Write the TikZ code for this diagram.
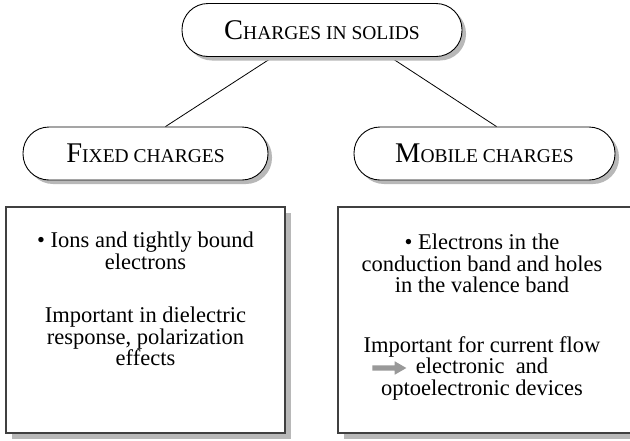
\documentclass[tikz,border=0pt]{standalone}
\usepackage{fontspec}
\setmainfont{Liberation Serif}
\usetikzlibrary{shadows,shapes.arrows,calc,backgrounds}
\newcommand{\fakesc}[2]{{\fontsize{28.5}{30}\selectfont #1}{\fontsize{19.5}{20}\selectfont #2}}

\begin{document}
\begin{tikzpicture}[x=1pt,y=-1pt,
		pill/.style={draw=black,line width=0.9pt,fill=white,rounded corners=26pt,minimum height=53pt,inner sep=0pt,
			drop shadow={shadow xshift=4pt,shadow yshift=-4pt,fill=black!28,opacity=1}},
		panel/.style={draw=black!75,line width=1.3pt,fill=white,inner sep=0pt,minimum height=226pt,
			drop shadow={shadow xshift=6pt,shadow yshift=-6pt,fill=black!28,opacity=1}},
		body/.style={align=center,inner sep=0pt,anchor=north,font=\fontsize{22.5}{21.5}\selectfont},
		link/.style={line width=0.8pt}]
		\useasboundingbox (0,0) rectangle (630,440);
		\clip (0,0) rectangle (630,440);
		
		% three headings
		\node[pill,minimum width=280pt] (solids) at (322,30) {\fakesc{C}{HARGES IN SOLIDS}};
		\node[pill,minimum width=245pt] (fixed) at (145.5,153.5) {\fakesc{F}{IXED CHARGES}};
		\node[pill,minimum width=261pt] (mobile) at (484.5,153.5) {\fakesc{M}{OBILE CHARGES}};
		\begin{scope}[on background layer]
		\draw[link] ($(solids.south)+(-49,0)$) -- ($(fixed.north)+(20,0)$);
		\draw[link] ($(solids.south)+(68,0)$) -- ($(mobile.north)+(12,0)$);
		\end{scope}
		
		% two panels
		\node[panel,minimum width=279pt] (fixedbox) at (145.5,320) {};
		\node[panel,minimum width=302pt] (mobilebox) at (489,320) {};
		\node[body] (fixedtext) at (145.5,232) {\textbullet\ Ions and tightly bound\\electrons\\[32pt]Important in dielectric\\response, polarization\\effects};
		\node[body] (mobiletext) at (482,234) {\textbullet\ Electrons in the\\conduction band and holes\\in the valence band\\[38pt]Important for current flow\\electronic\ \ and\\optoelectronic devices};
		\node[single arrow,fill=black!40,inner sep=2.5pt,single arrow head extend=4pt,single arrow tip angle=60,minimum height=34pt] (flow) at (387,368) {};
	\end{tikzpicture}
\end{document}
